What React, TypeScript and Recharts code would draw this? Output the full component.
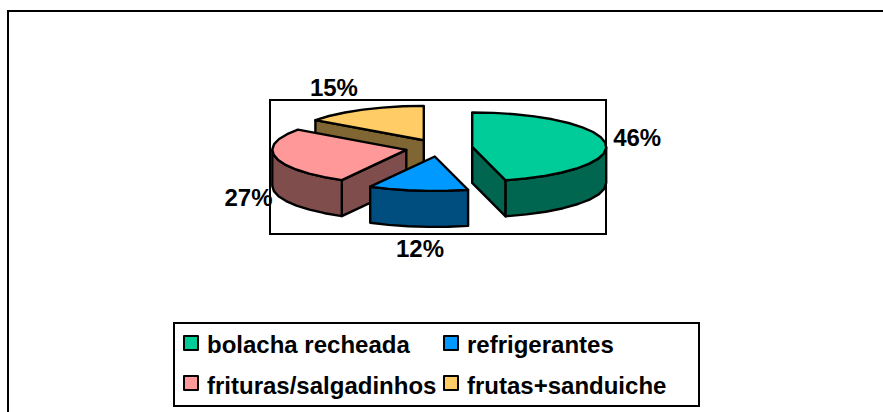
import React from "react";
import { PieChart, Pie, Legend, Customized } from "recharts";

// Drawn back to front, so the order runs anticlockwise from 12 o'clock.
const categories = ["frutas+sanduiche", "frituras/salgadinhos", "refrigerantes", "bolacha recheada"];
const values = [15, 27, 12, 46];
const topColors = ["#FFCC66", "#FF9999", "#0099FF", "#00CC99"];
const sideColors = ["#806633", "#804D4D", "#004D80", "#006650"];
const legendOrder = [3, 2, 1, 0];

const data = categories.map((name, i) => ({ name, value: values[i], top: topColors[i], side: sideColors[i], index: i }));

const W = 883, H = 412;
const CX = 439, CY = 148, RX = 134;
const SQUASH = 0.257, DEPTH = 36, EXPLODE = 33.5, STROKE = 2.4;
const FONT = "'Liberation Sans', Arial, sans-serif";
const LABEL_OFFSET: [number, number][] = [[-29, -22], [-27, 40], [2, 58], [32, -5]];

const RAD = Math.PI / 180;
const pt = (ax: number, ay: number, a: number, dy = 0) => [
  ax + RX * Math.cos(a * RAD),
  ay - RX * SQUASH * Math.sin(a * RAD) + dy,
];
const apex = (cx: number, cy: number, mid: number) => [
  cx + EXPLODE * Math.cos(mid * RAD),
  cy - EXPLODE * SQUASH * Math.sin(mid * RAD),
];
const arc = (ax: number, ay: number, a0: number, a1: number, dy = 0) => {
  const n = Math.max(1, Math.round(Math.abs(a1 - a0) / 9));
  const out: number[][] = [];
  for (let i = 0; i <= n; i++) out.push(pt(ax, ay, a0 + ((a1 - a0) * i) / n, dy));
  return out;
};
const toPath = (p: number[][]) => "M" + p.map((q) => `${q[0].toFixed(1)},${q[1].toFixed(1)}`).join("L") + "Z";

function Slice3D(props: any) {
  const { cx, cy, startAngle, endAngle, midAngle, payload } = props;
  const top = payload?.top ?? props.top;
  const side = payload?.side ?? props.side;
  const mid = midAngle ?? (startAngle + endAngle) / 2;
  const [ax, ay] = apex(cx, cy, mid);
  const lo = Math.min(startAngle, endAngle);
  const hi = Math.max(startAngle, endAngle);
  const faces: string[] = [];
  // radial walls that face the viewer
  [lo, hi].forEach((a, k) => {
    const c = Math.cos(a * RAD);
    const visible = k === 0 ? c > 1e-6 : c < -1e-6;
    if (visible) {
      const e = pt(ax, ay, a);
      faces.push(toPath([[ax, ay], e, [e[0], e[1] + DEPTH], [ax, ay + DEPTH]]));
    }
  });
  // outer wall: only the lower half of the rim (180..360 anticlockwise from 3 o'clock)
  const norm = (a: number) => ((a % 360) + 360) % 360;
  const wallFrom = Math.max(norm(lo), 180);
  const span = hi - lo;
  const wallTo = Math.min(norm(lo) + span, 360);
  let wall = "";
  if (wallTo > wallFrom) {
    const upper = arc(ax, ay, wallFrom, wallTo);
    const lower = arc(ax, ay, wallTo, wallFrom, DEPTH);
    wall = toPath([...upper, ...lower]);
  }
  const topFace = toPath([[ax, ay], ...arc(ax, ay, lo, hi)]);
  return (
    <g>
      {faces.map((d, i) => (
        <path key={i} d={d} fill={side} stroke="#000" strokeWidth={STROKE} strokeLinejoin="round" />
      ))}
      {wall && <path d={wall} fill={side} stroke="#000" strokeWidth={STROKE} strokeLinejoin="round" />}
      <path d={topFace} fill={top} stroke="#000" strokeWidth={STROKE} strokeLinejoin="round" />
    </g>
  );
}

function PercentLabel(props: any) {
  const { cx, cy, midAngle, value, index } = props;
  const [ax, ay] = apex(cx, cy, midAngle);
  const [x, y] = pt(ax, ay, midAngle);
  const [dx, dy] = LABEL_OFFSET[index];
  return (
    <text x={x + dx} y={y + dy} textAnchor="middle" dominantBaseline="central" fontFamily={FONT} fontWeight="bold" fontSize={24} fill="#000">
      {`${value}%`}
    </text>
  );
}

function LegendBox() {
  return (
    <div
      style={{
        position: "absolute", left: 173, top: 322, width: 527, height: 85, boxSizing: "border-box",
        border: "2px solid #000", background: "#fff", fontFamily: FONT, fontWeight: "bold", fontSize: 24,
        color: "#000", lineHeight: "41px",
      }}
    >
      {legendOrder.map((c, k) => (
        <div key={c} style={{ position: "absolute", left: k % 2 ? 268 : 8, top: k < 2 ? 0 : 41, whiteSpace: "nowrap", display: "flex", alignItems: "center", height: 41 }}>
          <span style={{ width: 16, height: 16, boxSizing: "border-box", border: "2px solid #000", background: topColors[c], marginRight: 8, marginTop: k < 2 ? -3 : -5, borderRadius: 1 }} />
          {categories[c]}
        </div>
      ))}
    </div>
  );
}

export default function App() {
  return (
    <div style={{ position: "absolute", left: 0, top: 0, width: W, height: H, overflow: "hidden", background: "#fff" }}>
      <PieChart width={W} height={H} margin={{ top: 0, right: 0, bottom: 0, left: 0 }}>
        <Customized
          component={() => (
            <g>
              <path d={`M8,${H + 5}V11H${W + 5}`} fill="none" stroke="#000" strokeWidth={2} />
              <rect x={270} y={100} width={336} height={134} fill="#fff" stroke="#000" strokeWidth={2} />
            </g>
          )}
        />
        <Pie
          data={data}
          dataKey="value"
          nameKey="name"
          cx={CX}
          cy={CY}
          outerRadius={RX}
          startAngle={90}
          endAngle={450}
          paddingAngle={0}
          stroke="none"
          isAnimationActive={false}
          shape={Slice3D as any}
          inactiveShape={Slice3D as any}
          labelLine={false}
          label={PercentLabel as any}
        />
        <Legend content={() => <LegendBox />} wrapperStyle={{ position: "absolute", left: 0, top: 0, width: 0, height: 0 }} />
      </PieChart>
    </div>
  );
}
